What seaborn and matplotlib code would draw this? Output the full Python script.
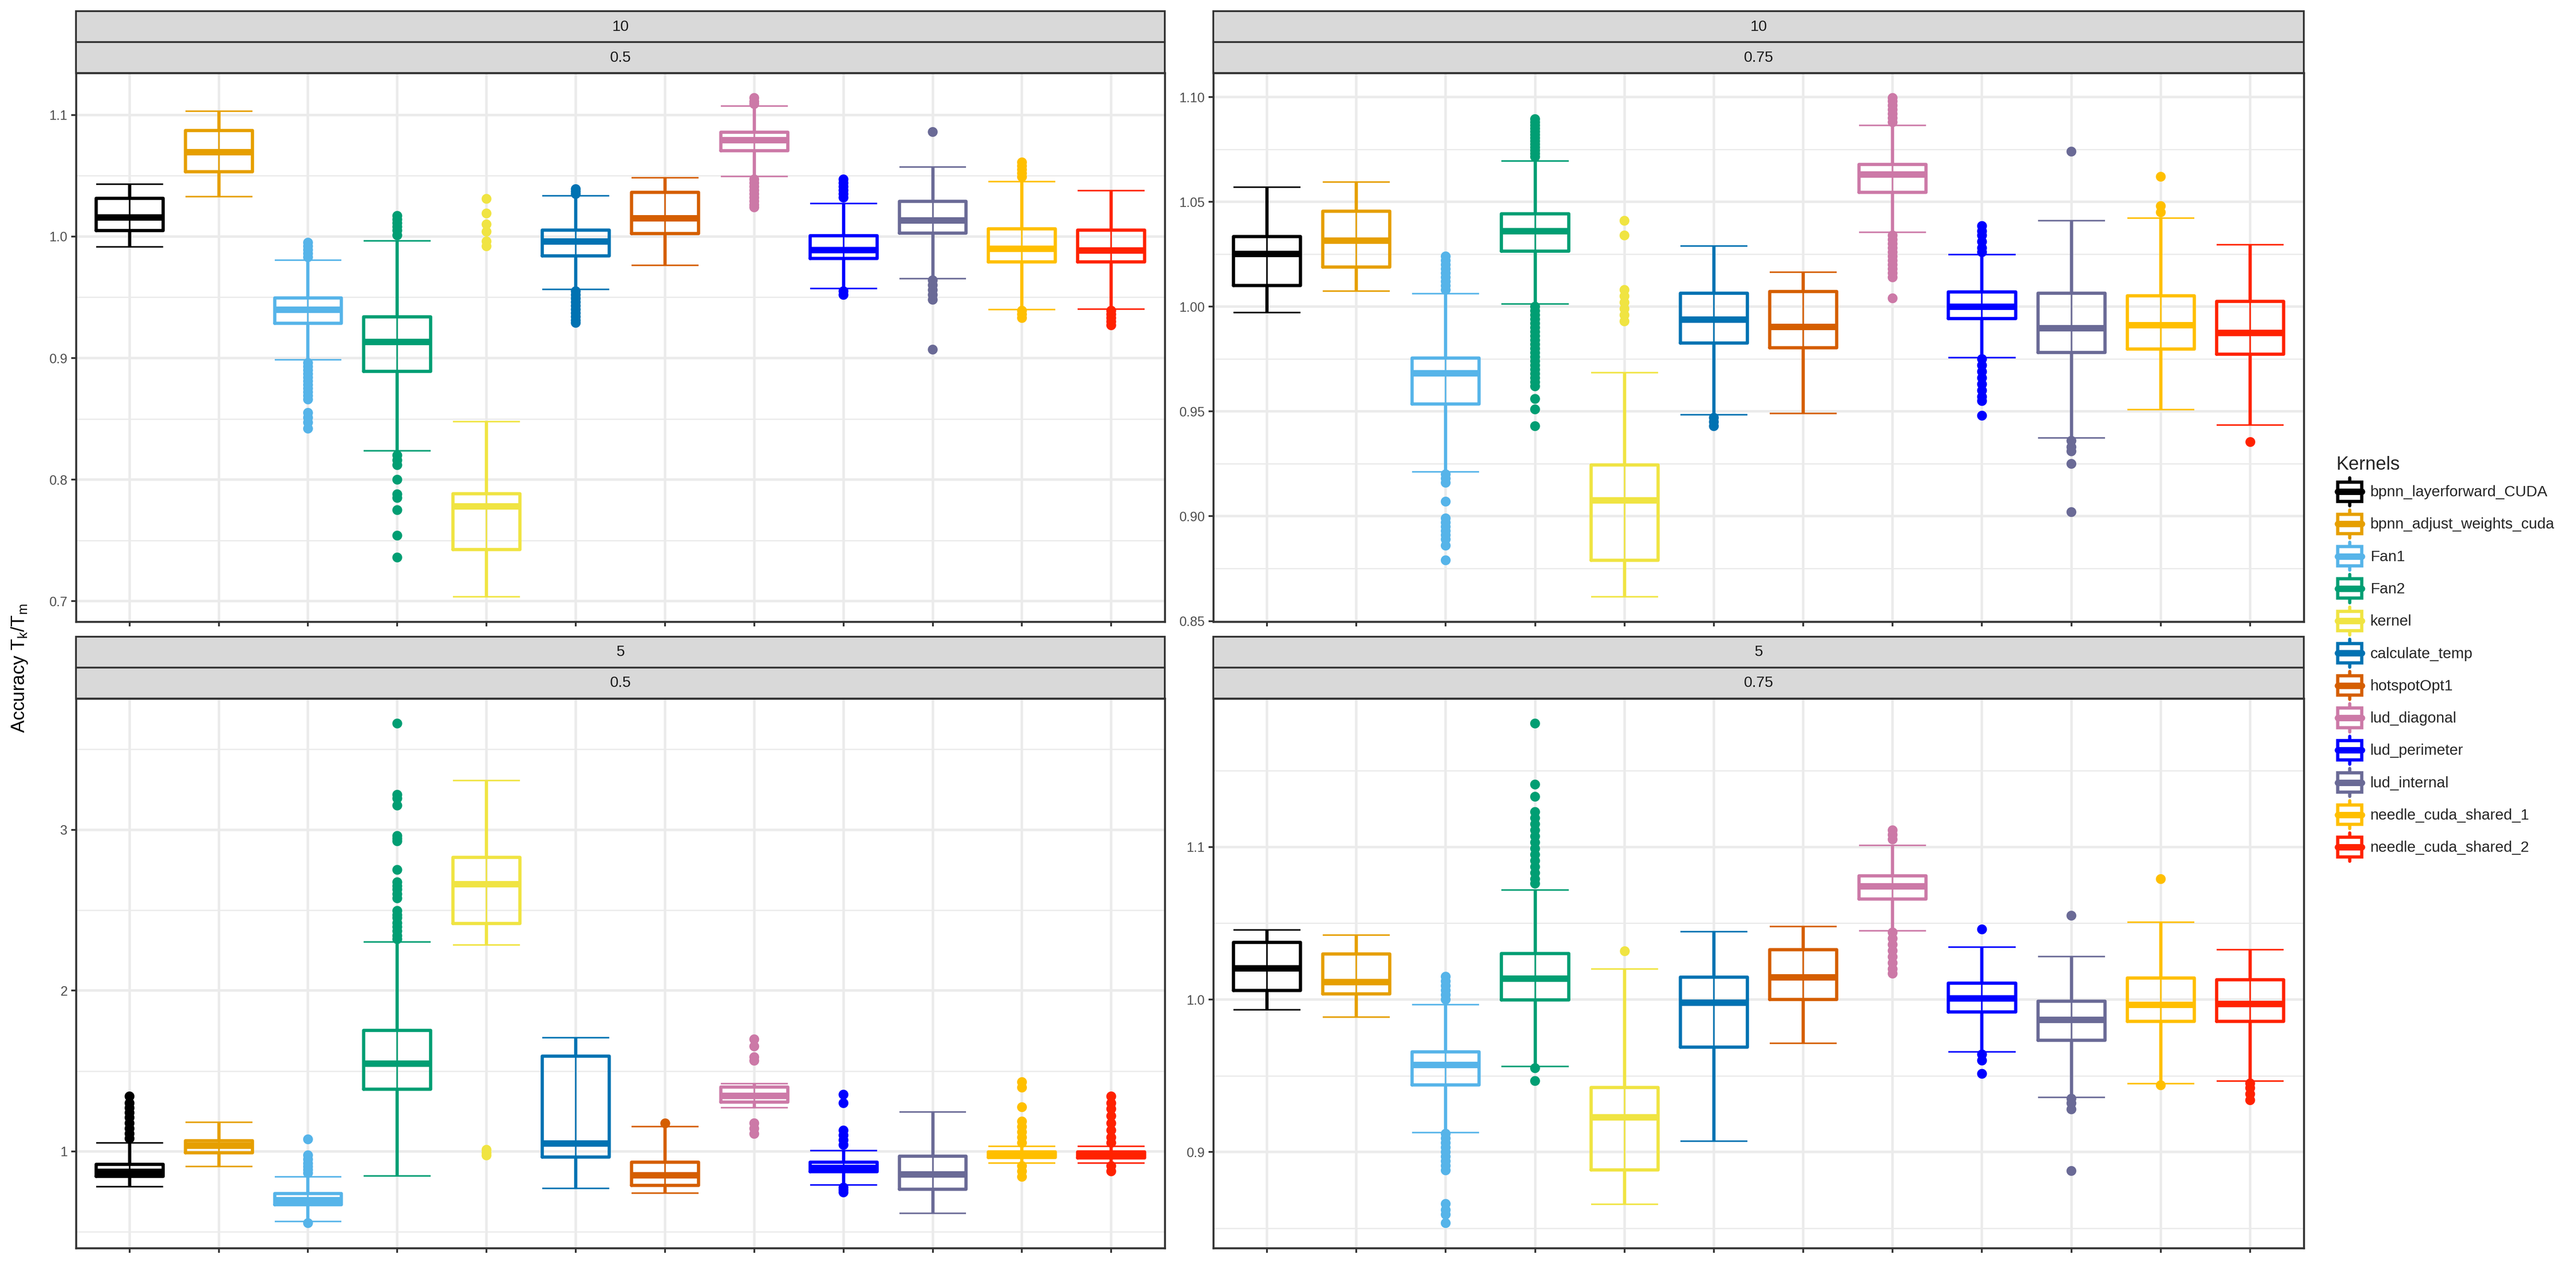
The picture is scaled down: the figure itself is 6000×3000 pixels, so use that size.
import numpy as np
import pandas as pd
import matplotlib
matplotlib.use("Agg")
import matplotlib.pyplot as plt
import seaborn as sns
from matplotlib.patches import Rectangle
from matplotlib.lines import Line2D
from matplotlib.legend_handler import HandlerBase
from matplotlib.ticker import MultipleLocator, AutoMinorLocator, FormatStrFormatter

# ---------------- data ----------------
KERNELS = ["bpnn_layerforward_CUDA", "bpnn_adjust_weights_cuda", "Fan1", "Fan2", "kernel",
           "calculate_temp", "hotspotOpt1", "lud_diagonal", "lud_perimeter", "lud_internal",
           "needle_cuda_shared_1", "needle_cuda_shared_2"]
COLORS = ["#000000", "#E69F00", "#56B4E9", "#009E73", "#F0E442", "#0072B2",
          "#D55E00", "#CC79A7", "#0000FF", "#6A6A96", "#FFBF00", "#FF2200"]

# facet "10 / 0.5"
LO_A = [0.9916, 1.0329, 0.8986, 0.8236, 0.7037, 0.9565, 0.9764, 1.0493, 0.9573, 0.9654, 0.9400, 0.9403]
Q1_A = [1.0049, 1.0533, 0.9285, 0.8890, 0.7425, 0.9842, 1.0023, 1.0706, 0.9818, 1.0029, 0.9793, 0.9790]
MED_A = [1.0159, 1.0695, 0.9398, 0.9133, 0.7781, 0.9960, 1.0153, 1.0793, 0.9890, 1.0135, 0.9899, 0.9885]
Q3_A = [1.0314, 1.0873, 0.9496, 0.9340, 0.7885, 1.0052, 1.0363, 1.0859, 1.0006, 1.0288, 1.0063, 1.0052]
HI_A = [1.0430, 1.1030, 0.9807, 0.9963, 0.8476, 1.0334, 1.0484, 1.1072, 1.0271, 1.0573, 1.0452, 1.0378]
OUT_A = [
    [],
    [],
    [0.995, 0.992, 0.989, 0.986, 0.983, 0.896, 0.893, 0.890, 0.887, 0.884, 0.881, 0.878, 0.875,
     0.872, 0.869, 0.866, 0.855, 0.851, 0.847, 0.842],
    [1.017, 1.014, 1.011, 1.008, 1.005, 1.001, 0.820, 0.816, 0.812, 0.800, 0.788, 0.785, 0.775, 0.754, 0.736],
    [1.031, 1.019, 1.010, 1.004, 0.996, 0.992],
    [1.039, 1.037, 1.035, 0.955, 0.952, 0.949, 0.946, 0.943, 0.940, 0.937, 0.934, 0.931, 0.929],
    [],
    [1.114, 1.111, 1.109, 1.047, 1.044, 1.041, 1.038, 1.035, 1.032, 1.029, 1.026, 1.024],
    [1.047, 1.044, 1.041, 1.038, 1.035, 1.032, 0.955, 0.952],
    [1.086, 0.964, 0.960, 0.956, 0.952, 0.948, 0.907],
    [1.061, 1.058, 1.055, 1.052, 1.049, 0.939, 0.936, 0.933],
    [0.939, 0.936, 0.933, 0.930, 0.927],
]

# facet "10 / 0.75"
LO_B = [0.9971, 1.0075, 0.9211, 1.0013, 0.8616, 0.9484, 0.9491, 1.0356, 0.9756, 0.9373, 0.9509, 0.9435]
Q1_B = [1.0100, 1.0189, 0.9535, 1.0265, 0.8789, 0.9827, 0.9804, 1.0545, 0.9944, 0.9782, 0.9798, 0.9773]
MED_B = [1.0253, 1.0316, 0.9684, 1.0362, 0.9076, 0.9940, 0.9904, 1.0631, 1.0000, 0.9898, 0.9913, 0.9875]
Q3_B = [1.0335, 1.0456, 0.9755, 1.0444, 0.9245, 1.0064, 1.0073, 1.0678, 1.0071, 1.0064, 1.0051, 1.0025]
HI_B = [1.0571, 1.0595, 1.0062, 1.0695, 0.9685, 1.0289, 1.0165, 1.0865, 1.0249, 1.0411, 1.0422, 1.0295]
OUT_B = [
    [],
    [],
    [1.024, 1.022, 1.020, 1.018, 1.016, 1.014, 1.012, 1.010, 1.008, 0.920, 0.918, 0.916, 0.907,
     0.899, 0.897, 0.895, 0.893, 0.891, 0.889, 0.886, 0.879],
    [1.0895, 1.088, 1.0865, 1.085, 1.0835, 1.082, 1.0805, 1.079, 1.0775, 1.076, 1.0745, 1.073, 1.0715,
     1.000, 0.998, 0.996, 0.994, 0.992, 0.990, 0.988, 0.986, 0.984, 0.982, 0.980, 0.978, 0.976,
     0.974, 0.972, 0.970, 0.968, 0.966, 0.964, 0.962, 0.956, 0.951, 0.943],
    [1.041, 1.034, 1.008, 1.005, 1.002, 0.999, 0.996, 0.993],
    [0.947, 0.945, 0.943],
    [],
    [1.0996, 1.098, 1.096, 1.094, 1.092, 1.090, 1.088, 1.034, 1.032, 1.030, 1.028, 1.026, 1.024,
     1.022, 1.020, 1.018, 1.016, 1.014, 1.004],
    [1.0385, 1.036, 1.034, 1.031, 1.028, 1.026, 0.975, 0.972, 0.969, 0.966, 0.963, 0.960, 0.957, 0.955, 0.948],
    [1.074, 0.936, 0.933, 0.931, 0.925, 0.902],
    [1.062, 1.048, 1.045],
    [0.9355],
]

# facet "5 / 0.5"
LO_C = [0.780, 0.905, 0.565, 0.847, 2.285, 0.771, 0.740, 1.271, 0.791, 0.616, 0.927, 0.927]
Q1_C = [0.845, 0.991, 0.667, 1.386, 2.418, 0.964, 0.789, 1.306, 0.873, 0.765, 0.962, 0.960]
MED_C = [0.875, 1.038, 0.698, 1.548, 2.663, 1.051, 0.853, 1.346, 0.898, 0.858, 0.980, 0.976]
Q3_C = [0.920, 1.067, 0.738, 1.752, 2.829, 1.593, 0.933, 1.400, 0.933, 0.969, 0.996, 0.996]
HI_C = [1.053, 1.180, 0.842, 2.303, 3.306, 1.708, 1.153, 1.420, 1.004, 1.246, 1.031, 1.031]
OUT_C = [
    [1.342, 1.300, 1.270, 1.240, 1.210, 1.175, 1.142, 1.110, 1.080],
    [],
    [1.075, 0.976, 0.950, 0.925, 0.905, 0.885, 0.865, 0.554],
    [3.661, 3.218, 3.195, 3.151, 2.962, 2.945, 2.929, 2.751, 2.674, 2.650, 2.629, 2.600, 2.574,
     2.496, 2.470, 2.452, 2.420, 2.396, 2.370, 2.341, 2.320],
    [1.010, 0.990, 0.975],
    [],
    [1.175],
    [1.697, 1.653, 1.586, 1.564, 1.175, 1.142, 1.109],
    [1.353, 1.300, 1.130, 1.100, 1.070, 1.040, 0.775, 0.760, 0.745],
    [],
    [1.431, 1.397, 1.275, 1.186, 1.153, 1.120, 1.087, 1.053, 0.909, 0.876, 0.842],
    [1.342, 1.300, 1.264, 1.220, 1.175, 1.131, 1.087, 1.053, 0.909, 0.876],
]

# facet "5 / 0.75"
LO_D = [0.9932, 0.9886, 0.9128, 0.9560, 0.8657, 0.9070, 0.9713, 1.0450, 0.9657, 0.9357, 0.9448, 0.9466]
Q1_D = [1.0060, 1.0037, 0.9440, 0.9998, 0.8883, 0.9688, 1.0000, 1.0660, 0.9920, 0.9734, 0.9858, 0.9858]
MED_D = [1.0205, 1.0117, 0.9571, 1.0138, 0.9228, 0.9981, 1.0147, 1.0744, 1.0010, 0.9867, 0.9967, 0.9972]
Q3_D = [1.0375, 1.0298, 0.9657, 1.0301, 0.9424, 1.0147, 1.0326, 1.0811, 1.0107, 0.9990, 1.0142, 1.0130]
HI_D = [1.0457, 1.0422, 0.9967, 1.0718, 1.0200, 1.0445, 1.0480, 1.1012, 1.0345, 1.0282, 1.0508, 1.0326]
OUT_D = [
    [],
    [],
    [1.015, 1.012, 1.009, 1.006, 1.003, 1.000, 0.912, 0.909, 0.906, 0.903, 0.900, 0.897, 0.894,
     0.891, 0.888, 0.866, 0.862, 0.859, 0.8534],
    [1.181, 1.141, 1.133, 1.123, 1.119, 1.115, 1.111, 1.107, 1.103, 1.099, 1.095, 1.091, 1.087,
     1.083, 1.079, 1.076, 0.955, 0.9466],
    [1.0317],
    [],
    [],
    [1.111, 1.108, 1.105, 1.044, 1.040, 1.036, 1.032, 1.028, 1.024, 1.020, 1.017],
    [1.046, 0.964, 0.960, 0.9513],
    [1.055, 0.935, 0.932, 0.928, 0.8876],
    [1.079, 0.9438],
    [0.945, 0.942, 0.938, 0.934],
]

STRIP_TOP = ["10", "10", "5", "5"]
STRIP_BOTTOM = ["0.5", "0.75", "0.5", "0.75"]

# ---------------- style ----------------
sns.set_style("white")
plt.rcParams["font.family"] = ["Liberation Sans", "DejaVu Sans"]
plt.rcParams["mathtext.default"] = "regular"

W, H = 6000.0, 3000.0
fig = plt.figure(figsize=(20, 10), dpi=300)
PAL = dict(zip(KERNELS, COLORS))

GRID = "#EBEBEB"
DARK = "#333333"
BOX_LW = 1.8
REP = 80  # repetitions used to pin the quartiles

panels = [
    (LO_A, Q1_A, MED_A, Q3_A, HI_A, OUT_A, (177, 170, 2536, 1278), 0.1, "%.1f"),
    (LO_B, Q1_B, MED_B, Q3_B, HI_B, OUT_B, (2826, 170, 2540, 1278), 0.05, "%.2f"),
    (LO_C, Q1_C, MED_C, Q3_C, HI_C, OUT_C, (177, 1627, 2536, 1280), 1.0, "%d"),
    (LO_D, Q1_D, MED_D, Q3_D, HI_D, OUT_D, (2826, 1627, 2540, 1280), 0.1, "%.1f"),
]
STRIP_H = 72

for p, (lo, q1, med, q3, hi, out, (px, py, pw, ph), step, fmt) in enumerate(panels):
    ax = fig.add_axes([px / W, 1 - (py + ph) / H, pw / W, ph / H])
    rows = []
    for k, name in enumerate(KERNELS):
        vals = [lo[k]] + [q1[k]] * REP + [med[k]] * REP + [q3[k]] * REP + [hi[k]]
        rows += [(name, v) for v in vals]
    df_box = pd.DataFrame(rows, columns=["kernel", "value"])
    orows = [(name, v) for k, name in enumerate(KERNELS) for v in out[k]]
    df_out = pd.DataFrame(orows, columns=["kernel", "value"])

    xs = np.arange(len(KERNELS))
    # error-bar style whisker line through the box and thin caps
    ax.vlines(xs, lo, hi, colors=COLORS, lw=0.85, zorder=2)
    ax.hlines(lo, xs - 0.375, xs + 0.375, colors=COLORS, lw=0.85, zorder=2)
    ax.hlines(hi, xs - 0.375, xs + 0.375, colors=COLORS, lw=0.85, zorder=2)

    sns.boxplot(data=df_box, x="kernel", y="value", hue="kernel", order=KERNELS, hue_order=KERNELS,
                palette=PAL, fill=False, width=0.75, whis=(0, 100), showfliers=False, showcaps=False,
                linewidth=BOX_LW, medianprops=dict(linewidth=2 * BOX_LW), legend=False, ax=ax)
    sns.stripplot(data=df_out, x="kernel", y="value", hue="kernel", order=KERNELS, hue_order=KERNELS,
                  palette=PAL, jitter=False, size=5.5, linewidth=0, legend=False, ax=ax, zorder=4)

    allv = list(lo) + list(hi) + [v for o in out for v in o]
    dmin, dmax = min(allv), max(allv)
    pad = 0.05 * (dmax - dmin)
    ax.set_ylim(dmin - pad, dmax + pad)
    ax.set_xlim(-0.6, len(KERNELS) - 0.4)
    ax.set_xticks(xs)
    ax.set_xticklabels([])
    ax.set_xlabel("")
    ax.set_ylabel("")
    ax.yaxis.set_major_locator(MultipleLocator(step))
    ax.yaxis.set_minor_locator(AutoMinorLocator(2))
    ax.yaxis.set_major_formatter(FormatStrFormatter(fmt))
    ax.set_axisbelow(True)
    ax.grid(True, which="major", axis="both", color=GRID, lw=1.4)
    ax.grid(True, which="minor", axis="y", color=GRID, lw=0.7)
    ax.tick_params(which="major", length=2.7, width=1.0, color=DARK, labelsize=7.4,
                   labelcolor="#4D4D4D", pad=2)
    ax.tick_params(which="minor", length=0)
    ax.tick_params(axis="x", bottom=True)
    ax.tick_params(axis="y", left=True)
    for s in ax.spines.values():
        s.set_visible(True)
        s.set_color(DARK)
        s.set_linewidth(1.1)

    # facet strips (two rows)
    for j, label in enumerate([STRIP_TOP[p], STRIP_BOTTOM[p]]):
        ytop = py - STRIP_H * (2 - j)
        rect = Rectangle((px / W, 1 - (ytop + STRIP_H) / H), pw / W, STRIP_H / H,
                         transform=fig.transFigure, facecolor="#D9D9D9", edgecolor=DARK,
                         lw=1.0, clip_on=False)
        fig.add_artist(rect)
        fig.text((px + pw / 2) / W, 1 - (ytop + STRIP_H / 2) / H, label, ha="center", va="center",
                 fontsize=8.5, color="#1A1A1A")

fig.text(46 / W, 0.481, "Accuracy T$_{k}$/T$_{m}$", rotation=90, ha="center", va="center",
         fontsize=10.5, color="black")


class BoxKey(HandlerBase):
    def create_artists(self, legend, orig_handle, xdescent, ydescent, width, height, fontsize, trans):
        c = orig_handle.get_color()
        x0, y0 = -xdescent, -ydescent
        cx = x0 + width / 2
        whisk = Line2D([cx, cx], [y0 - height * 0.05, y0 + height * 1.05], color=c, lw=BOX_LW,
                       transform=trans)
        rect = Rectangle((x0 + 0.9, y0 + height * 0.12), width - 1.8, height * 0.76, facecolor="white",
                         edgecolor=c, lw=BOX_LW, transform=trans)
        medl = Line2D([x0 + 0.9, x0 + width - 0.9], [y0 + height / 2] * 2, color=c, lw=2 * BOX_LW,
                      transform=trans)
        return [whisk, rect, medl]


handles = [Line2D([], [], color=c) for c in COLORS]
leg = fig.legend(handles, KERNELS, handler_map={Line2D: BoxKey()}, loc="upper left",
                 bbox_to_anchor=(5441 / W, 1 - 1062 / H), frameon=False, title="Kernels",
                 title_fontsize=10.5, fontsize=8.5, handlelength=1.8, handleheight=2.2,
                 labelspacing=0.45, handletextpad=0.45, borderpad=0, borderaxespad=0)
leg._legend_box.align = "left"
leg._legend_box.sep = 3

fig.savefig("out.png", dpi=300, facecolor="white")
